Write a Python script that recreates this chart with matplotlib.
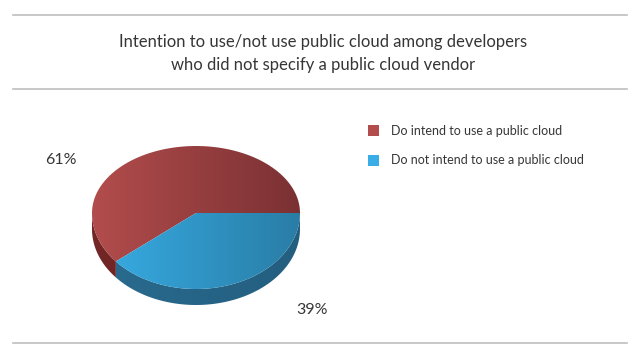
import numpy as np
import matplotlib
matplotlib.use("Agg")
import matplotlib.pyplot as plt
from matplotlib.patches import Polygon, Rectangle
from matplotlib.lines import Line2D

# Survey split
categories = ["Do intend to use a public cloud", "Do not intend to use a public cloud"]
shares = [61, 39]
share_labels = ["61%", "39%"]
title_lines = ["Intention to use/not use public cloud among developers",
               "who did not specify a public cloud vendor"]

# Pie geometry in pixel space (y grows downward)
CX, CY = 196, 213
A, B_TOP, B_BOT = 104, 67, 76
DEPTH = 16

# top-face gradient (left, right) and side colours per slice
top_colors = [((0.70, 0.30, 0.30), (0.48, 0.19, 0.20)),
              ((0.22, 0.68, 0.90), (0.16, 0.49, 0.65))]
side_colors = [((0.45, 0.15, 0.15), (0.40, 0.13, 0.13)),
               ((0.16, 0.42, 0.56), (0.14, 0.37, 0.50))]
text_color = "#363636"
FONT = "Lato"


def ellipse_pts(t0, t1, dy=0.0, n=120):
    t = np.radians(np.linspace(t0, t1, n))
    s = np.sin(t)
    b = np.where(s >= 0, B_TOP, B_BOT)
    return np.column_stack([CX + A * np.cos(t), CY - b * s + dy])


def gradient_fill(ax, verts, c_left, c_right, zorder):
    poly = Polygon(verts, closed=True, facecolor="none", edgecolor="none")
    ax.add_patch(poly)
    x0, x1 = CX - A, CX + A
    w = np.linspace(0, 1, 256)[None, :, None]
    img = (1 - w) * np.array(c_left)[None, None, :] + w * np.array(c_right)[None, None, :]
    im = ax.imshow(img, extent=(x0, x1, CY + B_BOT + DEPTH + 2, CY - B_TOP - 2),
                   aspect="auto", interpolation="bilinear", zorder=zorder)
    im.set_clip_path(poly)


fig = plt.figure(figsize=(6.4, 3.47), dpi=100)
ax = fig.add_axes([0, 0, 1, 1])
ax.set_xlim(0, 640)
ax.set_ylim(347, 0)
ax.axis("off")

# rules above/below the title and at the bottom
for y in (14.5, 88.5, 343):
    ax.add_line(Line2D([13, 627], [y, y], color="#bdbdbd", lw=1.2))

for y, line in zip((42, 65), title_lines):
    ax.text(323.5, y, line, ha="center", va="center", fontsize=12,
            family=FONT, color=text_color)

# slice angles, counter-clockwise from 3 o'clock
bounds = np.concatenate([[0], np.cumsum(shares)]) / sum(shares) * 360

# side walls (front half only), drawn first
for i in range(len(shares)):
    t0, t1 = max(bounds[i], 180), min(bounds[i + 1], 360)
    if t1 <= t0:
        continue
    top = ellipse_pts(t0, t1)
    bot = ellipse_pts(t1, t0, dy=DEPTH)
    gradient_fill(ax, np.vstack([top, bot]), *side_colors[i], zorder=2)

# top faces
for i in range(len(shares)):
    arc = ellipse_pts(bounds[i], bounds[i + 1])
    verts = np.vstack([[CX, CY], arc])
    gradient_fill(ax, verts, *top_colors[i], zorder=3)

# percentage labels
ax.text(45, 160, share_labels[0], ha="left", va="center", fontsize=11.5,
        family=FONT, color=text_color)
ax.text(296, 310, share_labels[1], ha="left", va="center", fontsize=11.5,
        family=FONT, color=text_color)

# legend
for i, name in enumerate(categories):
    y = 130.5 + 29.5 * i
    ax.add_patch(Rectangle((368, y - 5.5), 11, 11, facecolor=top_colors[i][0],
                           edgecolor="none", zorder=4))
    ax.text(391, y, name, ha="left", va="center", fontsize=9,
            family=FONT, color=text_color)

fig.savefig("out.png", dpi=100)
